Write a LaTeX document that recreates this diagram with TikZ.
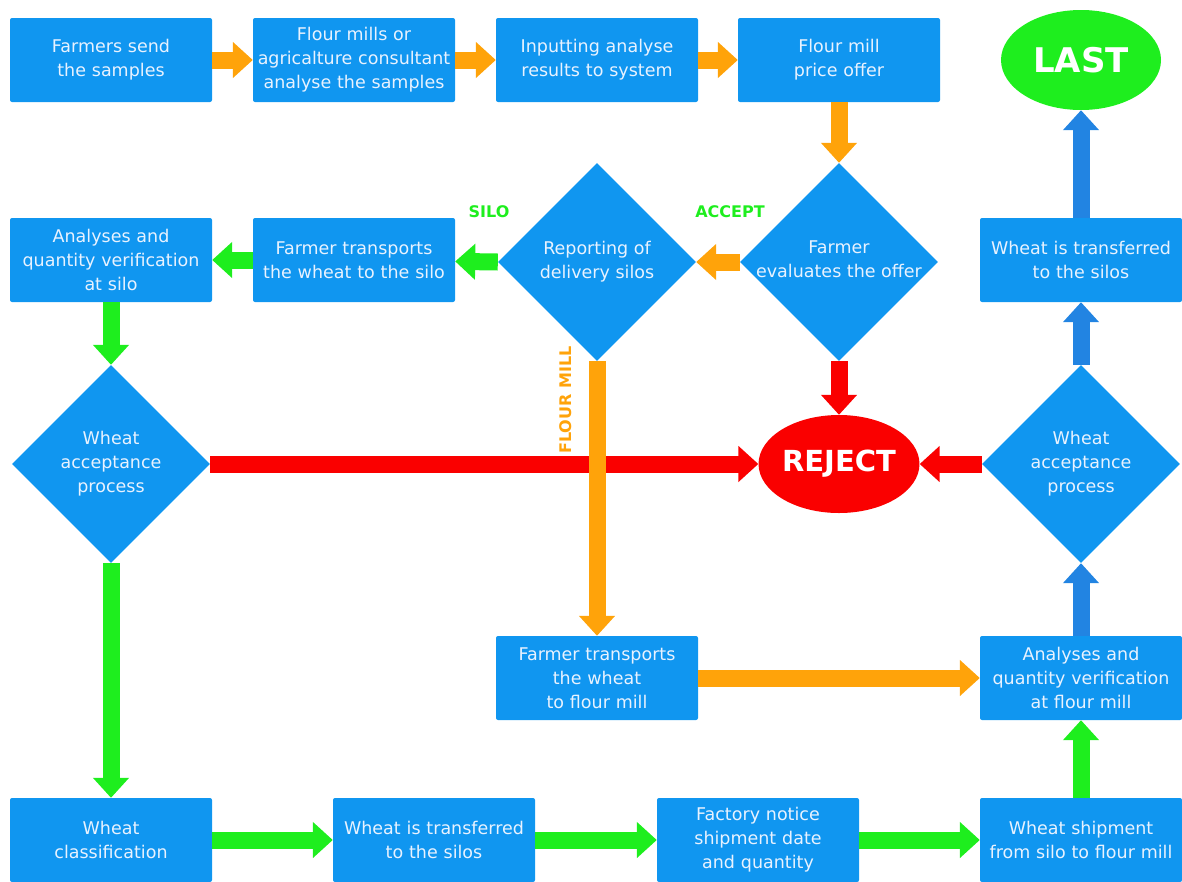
\documentclass[tikz,border=0pt]{standalone}
\usepackage{fontspec}
\setmainfont{DejaVu Sans}
\usetikzlibrary{shapes.geometric,arrows.meta}
\definecolor{boxblue}{RGB}{16,150,240}
\definecolor{arrowblue}{RGB}{34,132,226}
\definecolor{flowgreen}{RGB}{30,238,30}
\definecolor{floworange}{RGB}{255,163,10}
\definecolor{flowred}{RGB}{250,0,0}
\definecolor{boxtext}{RGB}{232,242,255}
\begin{document}
\begin{tikzpicture}[x=1pt,y=-1pt,
  box/.style={fill=boxblue, rounded corners=2pt, minimum width=202pt, minimum height=84pt,
    text width=200pt, inner sep=0pt, align=center, text=boxtext, font=\fontsize{17.5}{24}\selectfont},
  decision/.style={diamond, fill=boxblue, minimum width=198pt, minimum height=198pt, inner sep=0pt},
  dtext/.style={align=center, text=boxtext, font=\fontsize{17.5}{24}\selectfont},
  endpoint/.style={ellipse, inner sep=0pt, text=white},
  tag/.style={font=\bfseries\fontsize{16}{16}\selectfont},
  flow/.style={line width=17pt, -{Triangle[length=20pt,width=35pt]}},
]
\useasboundingbox (0,0) rectangle (1182,881);
% Top row
\node[box] (send) at (111,60) {Farmers send\\the samples};
\node[box] (analyse) at (354,60) {Flour mills or\\agricalture consultant\\analyse the samples};
\node[box] (input) at (597,60) {Inputting analyse\\results to system};
\node[box] (offer) at (839,60) {Flour mill\\price offer};
\node[endpoint, fill=flowgreen, minimum width=160pt, minimum height=100pt,
  font=\bfseries\fontsize{34}{34}\selectfont] (last) at (1081,60) {LAST};
% Second row
\node[box] (checksilo) at (111,260) {Analyses and\\quantity verification\\at silo};
\node[box] (tosilo) at (354,260) {Farmer transports\\the wheat to the silo};
\node[decision, label={[dtext]center:Reporting of\\delivery silos}] (report) at (597,262) {};
\node[decision, label={[dtext, yshift=3pt]center:Farmer\\evaluates the offer}] (evaluate) at (839,262) {};
\node[box] (storeup) at (1081,260) {Wheat is transferred\\to the silos};
% Third row
\node[decision, label={[dtext]center:Wheat\\acceptance\\process}] (acceptleft) at (111,464) {};
\node[endpoint, fill=flowred, minimum width=158pt, minimum height=98pt,
  font=\bfseries\fontsize{29}{29}\selectfont] (reject) at (839,464) {REJECT};
\node[decision, label={[dtext]center:Wheat\\acceptance\\process}] (acceptright) at (1081,464) {};
% Fourth row
\node[box] (tomill) at (597,678) {Farmer transports\\the wheat\\to flour mill};
\node[box] (checkmill) at (1081,678) {Analyses and\\quantity verification\\at flour mill};
% Bottom row
\node[box] (classify) at (111,840) {Wheat\\classification};
\node[box] (store) at (434,840) {Wheat is transferred\\to the silos};
\node[box] (notice) at (758,840) {Factory notice\\shipment date\\and quantity};
\node[box] (ship) at (1081,840) {Wheat shipment\\from silo to flour mill};
% Orange arrows
\draw[flow, floworange] (send) -- (analyse);
\draw[flow, floworange] (analyse) -- (input);
\draw[flow, floworange] (input) -- (offer);
\draw[flow, floworange] (offer.south) -- (evaluate.north);
\draw[flow, floworange] (evaluate.west) -- (report.east);
% Green arrows
\draw[flow, flowgreen] (report.west) -- (tosilo);
\draw[flow, flowgreen] (tosilo) -- (checksilo);
\draw[flow, flowgreen] (checksilo.south) -- (acceptleft.north);
\draw[flow, flowgreen] (acceptleft.south) -- (classify.north);
\draw[flow, flowgreen] (classify) -- (store);
\draw[flow, flowgreen] (store) -- (notice);
\draw[flow, flowgreen] (notice) -- (ship);
\draw[flow, flowgreen] (ship.north) -- (checkmill.south);
% Red arrows
\draw[flow, flowred] (evaluate.south) -- (reject.north);
\draw[flow, flowred] (acceptleft.east) -- (reject.west);
\draw[flow, flowred] (acceptright.west) -- (reject.east);
% Flour mill branch
\draw[flow, floworange] (report.south) -- (tomill.north);
\draw[flow, floworange] (tomill) -- (checkmill);
% Blue arrows
\draw[flow, arrowblue] (checkmill.north) -- (acceptright.south);
\draw[flow, arrowblue] (acceptright.north) -- (storeup.south);
\draw[flow, arrowblue] (storeup.north) -- (last.south);
% Labels
\node[tag, text=flowgreen] (silotag) at (489,212) {SILO};
\node[tag, text=flowgreen] (accepttag) at (730,212) {ACCEPT};
\node[tag, text=floworange, rotate=90] (milltag) at (566,400) {FLOUR MILL};
\end{tikzpicture}
\end{document}
